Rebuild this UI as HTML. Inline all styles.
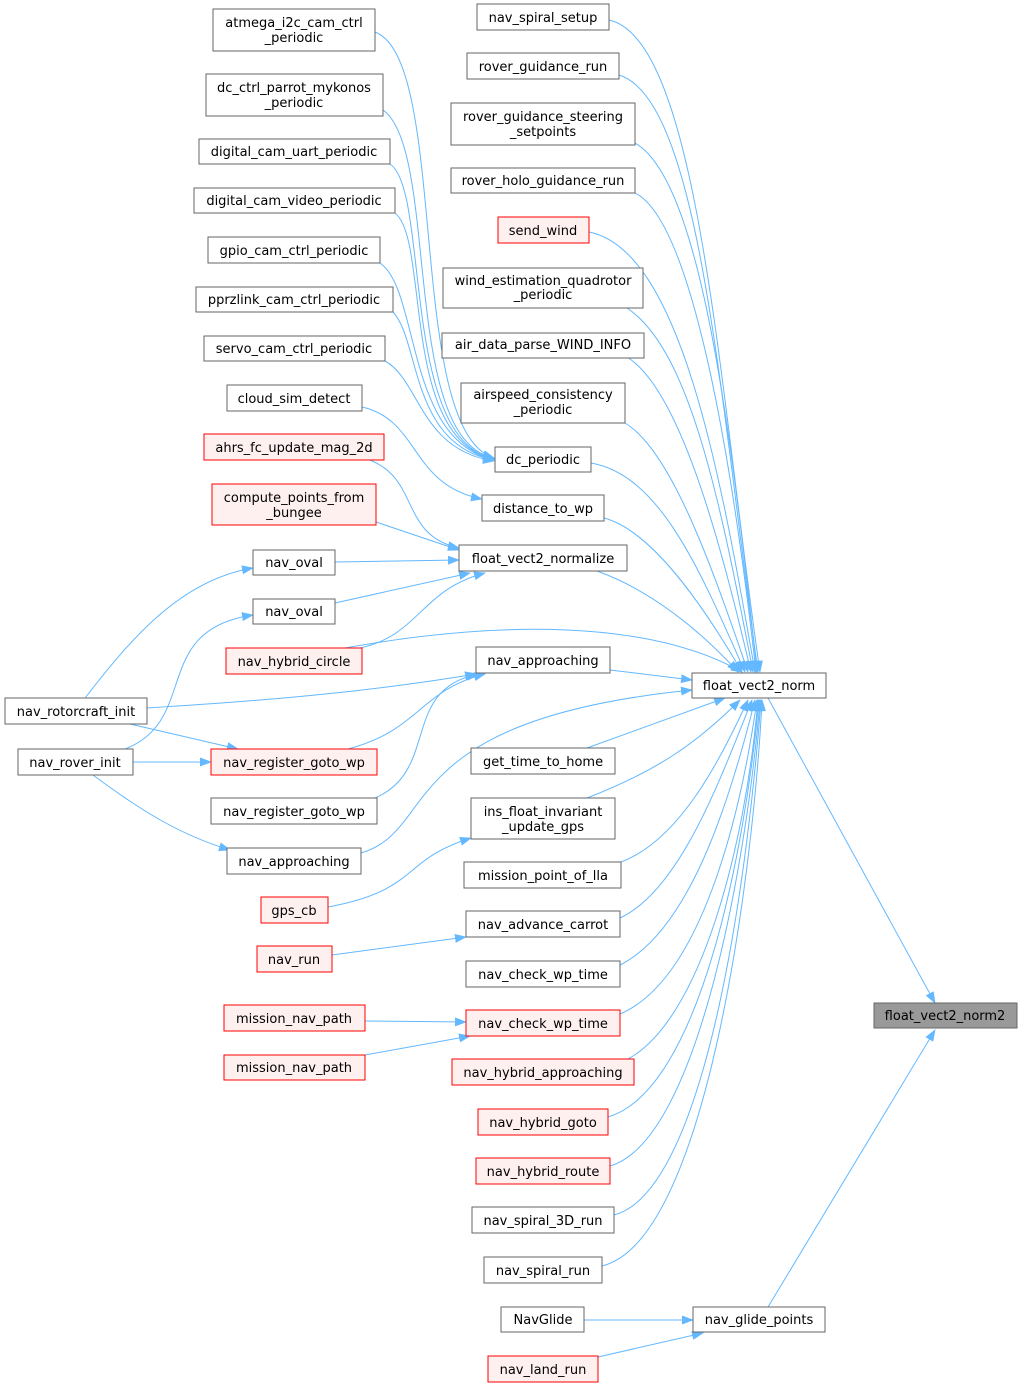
<!DOCTYPE html>
<html><head><meta charset="utf-8"><style>
html,body{margin:0;padding:0;background:#fff}
svg{display:block}
text{font-family:"DejaVu Sans","Liberation Sans",sans-serif;font-size:13px;fill:#000;text-anchor:middle}
.n{fill:#fff;stroke:#666;stroke-width:1}
.r{fill:#fff0f0;stroke:#f00;stroke-width:1}
.g{fill:#999;stroke:#666;stroke-width:1}
path{fill:none;stroke:#63b8ff;stroke-width:1}
</style></head><body>
<svg width="1023" height="1388" viewBox="0 0 1023 1388" xmlns="http://www.w3.org/2000/svg">
<defs><marker id="a" markerWidth="12" markerHeight="9" refX="11" refY="4.5" orient="auto" markerUnits="userSpaceOnUse"><polygon points="0,0 12,4.5 0,9" fill="#63b8ff"/></marker></defs>
<g marker-end="url(#a)">
<path d="M375,32 C450,60 405,430 494,458"/>
<path d="M383,110 C440,150 400,440 494,458"/>
<path d="M390,164 C430,190 400,440 494,459"/>
<path d="M395,213 C430,240 400,440 494,459"/>
<path d="M380,263 C420,290 405,440 494,460"/>
<path d="M393,312 C420,340 410,445 494,460"/>
<path d="M385,361 C420,380 420,450 494,461"/>
<path d="M362,407 C420,420 410,485 482,499"/>
<path d="M370,460 C420,480 400,535 459,548"/>
<path d="M376,522 L459,550"/>
<path d="M335,562 L459,560"/>
<path d="M335,603 L470,573"/>
<path d="M360,648 C420,635 420,590 485,573"/>
<path d="M85,698 C130,640 180,580 253,568"/>
<path d="M147,708 C280,700 380,690 476,674"/>
<path d="M130,724 L238,749"/>
<path d="M125,749 C200,720 150,630 253,615"/>
<path d="M133,762 L211,762"/>
<path d="M93,775 C140,810 180,835 230,850"/>
<path d="M348,749 C420,730 420,690 485,674"/>
<path d="M375,798 C440,770 400,690 478,674"/>
<path d="M361,853 C440,830 390,720 692,690"/>
<path d="M345,648 C500,620 650,620 742,672"/>
<path d="M328,907 C420,890 400,860 471,838"/>
<path d="M332,955 L466,937"/>
<path d="M365,1021 L466,1022"/>
<path d="M365,1055 L470,1036"/>
<path d="M609,20 C700,40 720,400 760,672"/>
<path d="M619,75 C700,100 720,400 758,672"/>
<path d="M635,143 C700,180 730,420 757,672"/>
<path d="M635,193 C690,220 730,440 756,672"/>
<path d="M589,232 C680,250 720,470 755,672"/>
<path d="M627,308 C690,350 720,500 753,672"/>
<path d="M627,357 C680,390 720,540 751,672"/>
<path d="M625,423 C670,450 710,560 748,672"/>
<path d="M591,463 C660,475 700,570 745,672"/>
<path d="M604,518 C650,530 700,600 742,672"/>
<path d="M597,571 C650,590 700,630 738,672"/>
<path d="M610,670 L692,680"/>
<path d="M587,748 L725,698"/>
<path d="M587,798 C660,770 700,740 740,700"/>
<path d="M621,862 C680,840 720,760 748,700"/>
<path d="M620,918 C680,890 720,780 752,700"/>
<path d="M620,965 C690,930 730,800 755,700"/>
<path d="M620,1014 C700,980 740,820 757,700"/>
<path d="M628,1059 C700,1020 745,850 758,700"/>
<path d="M608,1117 C700,1090 745,850 759,700"/>
<path d="M610,1166 C700,1140 748,850 760,700"/>
<path d="M614,1215 C710,1190 750,850 761,700"/>
<path d="M602,1266 C710,1240 755,850 762,700"/>
<path d="M584,1320 L693,1320"/>
<path d="M598,1357 L703,1333"/>
<path d="M768,1307 L935,1030"/>
<path d="M768,698 L935,1003"/>
</g>
<g>
<rect class="n" x="5" y="698" width="142" height="26"/><text x="76" y="716">nav_rotorcraft_init</text>
<rect class="n" x="18" y="749" width="115" height="26"/><text x="75" y="767">nav_rover_init</text>

<rect class="n" x="213" y="9" width="162" height="42"/><text x="294" y="27">atmega_i2c_cam_ctrl</text><text x="294" y="42">_periodic</text>
<rect class="n" x="206" y="74" width="177" height="42"/><text x="294" y="92">dc_ctrl_parrot_mykonos</text><text x="294" y="107">_periodic</text>
<rect class="n" x="199" y="139" width="191" height="25"/><text x="294" y="156">digital_cam_uart_periodic</text>
<rect class="n" x="194" y="188" width="201" height="25"/><text x="294" y="205">digital_cam_video_periodic</text>
<rect class="n" x="208" y="237" width="172" height="26"/><text x="294" y="255">gpio_cam_ctrl_periodic</text>
<rect class="n" x="196" y="287" width="197" height="25"/><text x="294" y="304">pprzlink_cam_ctrl_periodic</text>
<rect class="n" x="204" y="336" width="181" height="25"/><text x="294" y="353">servo_cam_ctrl_periodic</text>
<rect class="n" x="227" y="385" width="135" height="26"/><text x="294" y="403">cloud_sim_detect</text>
<rect class="r" x="204" y="434" width="180" height="26"/><text x="294" y="452">ahrs_fc_update_mag_2d</text>
<rect class="r" x="212" y="484" width="164" height="41"/><text x="294" y="502">compute_points_from</text><text x="294" y="517">_bungee</text>
<rect class="n" x="253" y="550" width="82" height="25"/><text x="294" y="567">nav_oval</text>
<rect class="n" x="253" y="599" width="82" height="25"/><text x="294" y="616">nav_oval</text>
<rect class="r" x="226" y="648" width="136" height="26"/><text x="294" y="666">nav_hybrid_circle</text>
<rect class="r" x="211" y="749" width="166" height="26"/><text x="294" y="767">nav_register_goto_wp</text>
<rect class="n" x="211" y="798" width="166" height="26"/><text x="294" y="816">nav_register_goto_wp</text>
<rect class="n" x="227" y="848" width="134" height="26"/><text x="294" y="866">nav_approaching</text>
<rect class="r" x="261" y="897" width="67" height="26"/><text x="294" y="915">gps_cb</text>
<rect class="r" x="257" y="946" width="75" height="26"/><text x="294" y="964">nav_run</text>
<rect class="r" x="224" y="1005" width="141" height="26"/><text x="294" y="1023">mission_nav_path</text>
<rect class="r" x="224" y="1055" width="141" height="25"/><text x="294" y="1072">mission_nav_path</text>

<rect class="n" x="477" y="4" width="132" height="26"/><text x="543" y="22">nav_spiral_setup</text>
<rect class="n" x="467" y="53" width="152" height="26"/><text x="543" y="71">rover_guidance_run</text>
<rect class="n" x="451" y="103" width="184" height="42"/><text x="543" y="121">rover_guidance_steering</text><text x="543" y="136">_setpoints</text>
<rect class="n" x="451" y="168" width="184" height="25"/><text x="543" y="185">rover_holo_guidance_run</text>
<rect class="r" x="498" y="217" width="91" height="26"/><text x="543" y="235">send_wind</text>
<rect class="n" x="443" y="268" width="200" height="40"/><text x="543" y="285">wind_estimation_quadrotor</text><text x="543" y="299">_periodic</text>
<rect class="n" x="442" y="333" width="202" height="25"/><text x="543" y="349">air_data_parse_WIND_INFO</text>
<rect class="n" x="461" y="383" width="164" height="40"/><text x="543" y="399">airspeed_consistency</text><text x="543" y="414">_periodic</text>
<rect class="n" x="495" y="447" width="96" height="25"/><text x="543" y="464">dc_periodic</text>
<rect class="n" x="482" y="495" width="122" height="26"/><text x="543" y="513">distance_to_wp</text>
<rect class="n" x="459" y="545" width="168" height="26"/><text x="543" y="563">float_vect2_normalize</text>
<rect class="n" x="476" y="647" width="134" height="26"/><text x="543" y="665">nav_approaching</text>
<rect class="n" x="471" y="748" width="144" height="26"/><text x="543" y="766">get_time_to_home</text>
<rect class="n" x="471" y="798" width="144" height="41"/><text x="543" y="816">ins_float_invariant</text><text x="543" y="831">_update_gps</text>
<rect class="n" x="464" y="862" width="157" height="26"/><text x="543" y="880">mission_point_of_lla</text>
<rect class="n" x="466" y="911" width="154" height="26"/><text x="543" y="929">nav_advance_carrot</text>
<rect class="n" x="466" y="961" width="154" height="26"/><text x="543" y="979">nav_check_wp_time</text>
<rect class="r" x="466" y="1010" width="154" height="26"/><text x="543" y="1028">nav_check_wp_time</text>
<rect class="r" x="452" y="1059" width="182" height="26"/><text x="543" y="1077">nav_hybrid_approaching</text>
<rect class="r" x="478" y="1109" width="130" height="26"/><text x="543" y="1127">nav_hybrid_goto</text>
<rect class="r" x="476" y="1158" width="134" height="26"/><text x="543" y="1176">nav_hybrid_route</text>
<rect class="n" x="472" y="1207" width="142" height="26"/><text x="543" y="1225">nav_spiral_3D_run</text>
<rect class="n" x="484" y="1257" width="118" height="26"/><text x="543" y="1275">nav_spiral_run</text>
<rect class="n" x="501" y="1307" width="83" height="25"/><text x="543" y="1324">NavGlide</text>
<rect class="r" x="488" y="1356" width="110" height="26"/><text x="543" y="1374">nav_land_run</text>

<rect class="n" x="692" y="673" width="134" height="25"/><text x="759" y="690">float_vect2_norm</text>
<rect class="n" x="693" y="1307" width="132" height="25"/><text x="759" y="1324">nav_glide_points</text>
<rect class="g" x="874" y="1003" width="143" height="25"/><text x="945" y="1020">float_vect2_norm2</text>
</g>
</svg>
</body></html>
